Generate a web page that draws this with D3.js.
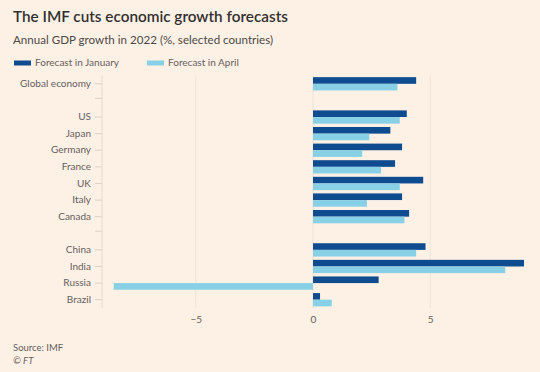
<!DOCTYPE html>
<html>
<head>
<meta charset="utf-8">
<script src="https://cdn.jsdelivr.net/npm/d3@7"></script>
<style>
  html, body { margin: 0; padding: 0; background: #fdf1e6; }
  svg { display: block; font-family: Lato, "Open Sans", sans-serif; }
</style>
</head>
<body>
<svg id="chart" width="540" height="372"></svg>
<script>
// blank names are the gaps between the groups
const countries = ["Global economy", "gap1", "US", "Japan", "Germany", "France", "UK", "Italy", "Canada",
                   "gap2", "China", "India", "Russia", "Brazil"];
const forecastJan = [4.4, null, 4.0, 3.3, 3.8, 3.5, 4.7, 3.8, 4.1, null, 4.8, 9.0, 2.8, 0.3];
const forecastApr = [3.6, null, 3.7, 2.4, 2.1, 2.9, 3.7, 2.3, 3.9, null, 4.4, 8.2, -8.5, 0.8];
const xTicks = [-5, 0, 5];
const seriesNames = ["Forecast in January", "Forecast in April"];
const seriesColors = ["#0f4c8f", "#88d0e6"];

const svg = d3.select("#chart");
const W = 540, H = 372;
const margin = {top: 75.5, right: 16, bottom: 64, left: 102};

svg.append("rect").attr("width", W).attr("height", H).attr("fill", "#fdf1e6");

// titles
svg.append("text").attr("x", 13).attr("y", 22)
  .attr("font-size", 15.3).attr("font-weight", 600).attr("fill", "#33302e")
  .text("The IMF cuts economic growth forecasts");
svg.append("text").attr("x", 13).attr("y", 44)
  .attr("font-size", 11.6).attr("fill", "#4d4845")
  .text("Annual GDP growth in 2022 (%, selected countries)");

// legend
const legend = svg.append("g");
[14, 147].forEach((lx, i) => {
  legend.append("rect").attr("x", lx).attr("y", 60.5).attr("width", 17).attr("height", 5)
    .attr("fill", seriesColors[i]);
  legend.append("text").attr("x", lx + 21).attr("y", 66)
    .attr("font-size", 10).attr("fill", "#66605c").text(seriesNames[i]);
});

const x = d3.scaleLinear().domain([-9, 9]).range([margin.left, W - margin.right]);
const y = d3.scaleBand().domain(countries).range([margin.top, H - margin.bottom]).paddingInner(0.2).paddingOuter(0.1);

// gridlines
svg.append("g").selectAll("line").data(xTicks).join("line")
  .attr("x1", d => x(d)).attr("x2", d => x(d))
  .attr("y1", margin.top).attr("y2", H - margin.bottom)
  .attr("stroke", "#efe3d8").attr("stroke-width", 1);

// bars
const sub = d3.scaleBand().domain([0, 1]).range([0, y.bandwidth()]);
const rows = countries.map((c, i) => ({c, vals: [forecastJan[i], forecastApr[i]]}))
  .filter(r => r.vals[0] !== null);
const g = svg.append("g");
rows.forEach(r => {
  r.vals.forEach((v, k) => {
    g.append("rect")
      .attr("x", x(Math.min(0, v)))
      .attr("width", Math.abs(x(v) - x(0)))
      .attr("y", y(r.c) + sub(k))
      .attr("height", sub.bandwidth())
      .attr("fill", seriesColors[k]);
  });
});

// y axis
const yAxis = d3.axisLeft(y).tickSize(7).tickPadding(4)
  .tickFormat(d => d.startsWith("gap") ? "" : d);
svg.append("g").attr("transform", `translate(${margin.left},0)`).call(yAxis)
  .call(a => a.select(".domain").attr("stroke", "#e6d9ce").attr("d", `M0,${margin.top}V${H - margin.bottom}`))
  .call(a => a.selectAll(".tick line").attr("stroke", "#ddd0c5"))
  .call(a => a.selectAll(".tick text").attr("font-size", 10).attr("fill", "#66605c").attr("font-family", "Lato, sans-serif"));

// gap ticks sit between groups
svg.selectAll(".tick").filter(d => d.startsWith("gap")).attr("transform", d => `translate(0,${y(d) + y.bandwidth() / 2 - 2})`);

// x axis labels
const xAxis = d3.axisBottom(x).tickValues(xTicks).tickSize(0).tickPadding(8)
  .tickFormat(d3.format("d"));
svg.append("g").attr("transform", `translate(0,${H - margin.bottom})`).call(xAxis)
  .call(a => a.select(".domain").remove())
  .call(a => a.selectAll(".tick text").attr("font-size", 10).attr("fill", "#66605c").attr("font-family", "Lato, sans-serif"));

// source
svg.append("text").attr("x", 13).attr("y", 351).attr("font-size", 9.5).attr("fill", "#66605c").text("Source: IMF");
svg.append("text").attr("x", 13).attr("y", 364).attr("font-size", 9.5).attr("font-style", "italic").attr("fill", "#66605c").text("© FT");
</script>
</body>
</html>
